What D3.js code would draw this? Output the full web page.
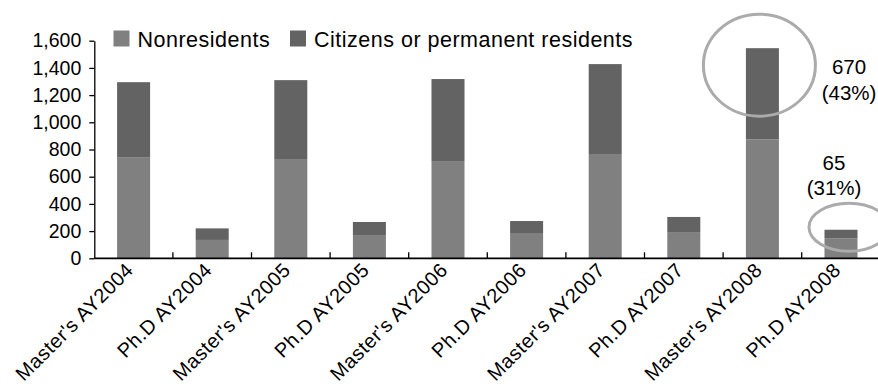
<!DOCTYPE html>
<html>
<head>
<meta charset="utf-8">
<script src="https://cdn.jsdelivr.net/npm/d3@7"></script>
<style>
  html, body { margin: 0; padding: 0; background: #fff; }
  svg { display: block; font-family: "Liberation Sans", Arial, Helvetica, sans-serif; }
</style>
</head>
<body>
<svg id="chart" width="878" height="391"></svg>
<script>
// Enrolment by degree and academic year
const categories = [
  "Master's AY2004", "Ph.D AY2004",
  "Master's AY2005", "Ph.D AY2005",
  "Master's AY2006", "Ph.D AY2006",
  "Master's AY2007", "Ph.D AY2007",
  "Master's AY2008", "Ph.D AY2008"
];
const nonresidents = [740, 135, 730, 171, 715, 186, 767, 193, 875, 145];
const citizens     = [555,  85, 580,  96, 603,  88, 661, 111, 670,  65];
const seriesNames = ["Nonresidents", "Citizens or permanent residents"];
const yTicks = [0, 200, 400, 600, 800, 1000, 1200, 1400, 1600];

// Callouts on the two 2008 bars
const callouts = [
  { category: "Master's AY2008", value: citizens[8], share: "43%" },
  { category: "Ph.D AY2008", value: citizens[9], share: "31%" }
];

const colors = { nonres: "#808080", cit: "#636363", ring: "#ababab" };

const svg = d3.select("#chart");

const x = d3.scaleBand()
  .domain(categories)
  .range([94.3, 880.3])
  .paddingInner(0.58)
  .paddingOuter(0.29);

const y = d3.scaleLinear().domain([0, 1600]).range([258.3, 40.7]);

const rows = categories.map((c, i) => ({ c, nonres: nonresidents[i], cit: citizens[i] }));

// Stacked bars
const g = svg.append("g");
g.selectAll("rect.nonres").data(rows).join("rect")
  .attr("class", "nonres")
  .attr("x", d => x(d.c))
  .attr("width", x.bandwidth())
  .attr("y", d => y(d.nonres))
  .attr("height", d => y(0) - y(d.nonres))
  .attr("fill", colors.nonres);
g.selectAll("rect.cit").data(rows).join("rect")
  .attr("class", "cit")
  .attr("x", d => x(d.c))
  .attr("width", x.bandwidth())
  .attr("y", d => y(d.nonres + d.cit))
  .attr("height", d => y(d.nonres) - y(d.nonres + d.cit))
  .attr("fill", colors.cit);

// Y axis
const yAxis = svg.append("g")
  .attr("transform", `translate(${x.range()[0]},0)`)
  .call(d3.axisLeft(y).tickValues(yTicks).tickFormat(d3.format(",")).tickSizeInner(5).tickSizeOuter(0).tickPadding(8));
yAxis.select(".domain").attr("stroke", "#000").attr("stroke-width", 1.3);
yAxis.selectAll(".tick line").attr("stroke", "#000").attr("stroke-width", 1.3);
yAxis.selectAll(".tick text")
  .attr("font-size", 19.5)
  .attr("fill", "#000")
  .attr("font-family", "\"Liberation Sans\", Arial, sans-serif");

// X axis line with ticks between categories
const step = x.step();
const x0 = x.range()[0];
svg.append("line")
  .attr("x1", x0).attr("x2", 878)
  .attr("y1", y(0)).attr("y2", y(0))
  .attr("stroke", "#000").attr("stroke-width", 1.8);
svg.append("g").selectAll("line")
  .data(d3.range(1, categories.length))
  .join("line")
  .attr("x1", i => x0 + i * step).attr("x2", i => x0 + i * step)
  .attr("y1", y(0)).attr("y2", y(0) - 6)
  .attr("stroke", "#000").attr("stroke-width", 1.3);

// Rotated category labels
svg.append("g").selectAll("text")
  .data(categories)
  .join("text")
  .attr("transform", c => `translate(${x(c) + x.bandwidth() / 2 + 1},${y(0) + 13}) rotate(-45)`)
  .attr("text-anchor", "end")
  .attr("font-size", 20)
  .attr("letter-spacing", 0.5)
  .attr("fill", "#000")
  .text(c => c);

// Legend
const legend = svg.append("g");
const legendItems = [
  { name: seriesNames[0], color: colors.nonres, x: 113.5 },
  { name: seriesNames[1], color: colors.cit, x: 290 }
];
legendItems.forEach(it => {
  legend.append("rect")
    .attr("x", it.x).attr("y", 30.5)
    .attr("width", 16).attr("height", 16)
    .attr("fill", it.color);
  legend.append("text")
    .attr("x", it.x + 24).attr("y", 46.5)
    .attr("font-size", 21.5)
    .attr("letter-spacing", 0.5)
    .attr("fill", "#000")
    .text(it.name);
});

// Highlight rings and value callouts
const big = callouts[0], small = callouts[1];
const bigCx = x(big.category) + x.bandwidth() / 2 - 3;
svg.append("ellipse")
  .attr("cx", bigCx).attr("cy", y(1420))
  .attr("rx", 56).attr("ry", 51)
  .attr("fill", "none").attr("stroke", colors.ring).attr("stroke-width", 3);
const smallCx = x(small.category) + x.bandwidth() / 2 + 8;
svg.append("ellipse")
  .attr("cx", smallCx).attr("cy", y(228))
  .attr("rx", 40).attr("ry", 24)
  .attr("fill", "none").attr("stroke", colors.ring).attr("stroke-width", 3);

const callG = svg.append("g").attr("font-size", 20.5).attr("fill", "#000").attr("text-anchor", "middle");
callG.append("text").attr("x", 849).attr("y", 74).text(d3.format(",")(big.value));
callG.append("text").attr("x", 849).attr("y", 100).text(`(${big.share})`);
callG.append("text").attr("x", 834).attr("y", 170).text(d3.format(",")(small.value));
callG.append("text").attr("x", 834).attr("y", 195).text(`(${small.share})`);
</script>
</body>
</html>
